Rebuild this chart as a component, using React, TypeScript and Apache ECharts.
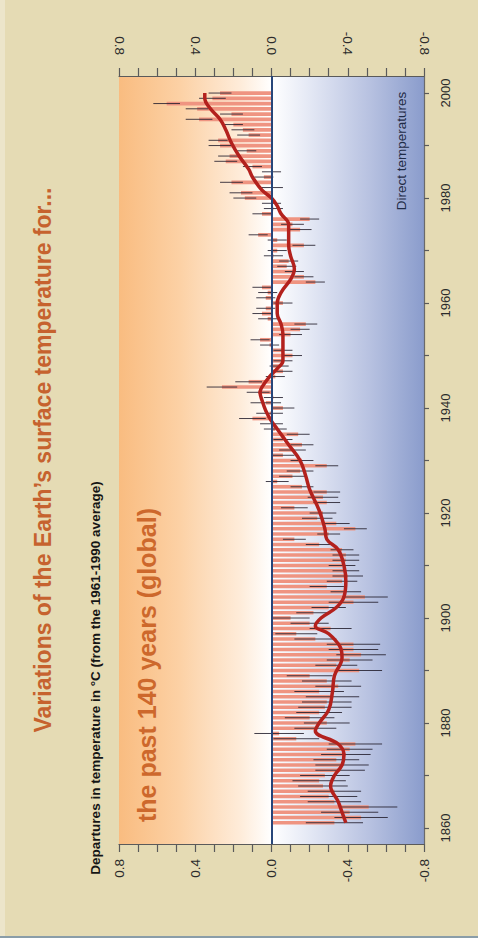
import React, { useEffect, useRef } from 'react';
import * as echarts from 'echarts';

// ---------- data ----------
const firstYear = 1861;

// annual global temperature departures (°C, from the 1961-1990 average), 1861-2000
const anomalies = [
  -0.33, -0.47, -0.41, -0.51, -0.33, -0.30, -0.33, -0.27, -0.25, -0.28,
  -0.36, -0.37, -0.34, -0.39, -0.41, -0.44, -0.13, -0.04, -0.23, -0.29,
  -0.20, -0.25, -0.28, -0.29, -0.32, -0.25, -0.35, -0.29, -0.20, -0.46,
  -0.34, -0.41, -0.47, -0.43, -0.43, -0.23, -0.13, -0.31, -0.20, -0.10,
  -0.22, -0.30, -0.43, -0.49, -0.39, -0.29, -0.37, -0.40, -0.39, -0.37,
  -0.39, -0.39, -0.37, -0.25, -0.12, -0.30, -0.44, -0.34, -0.24, -0.27,
  -0.12, -0.29, -0.27, -0.29, -0.16, -0.03, -0.11, -0.15, -0.29, -0.16,
  -0.06, -0.11, -0.16, -0.06, -0.14, -0.02, 0.00, 0.10, 0.01, -0.06,
  0.03, -0.01, 0.07, 0.26, 0.12, -0.02, -0.06, -0.04, -0.06, -0.11,
  -0.06, 0.01, 0.06, -0.10, -0.15, -0.18, 0.02, 0.05, 0.03, -0.06,
  0.03, 0.02, 0.05, -0.23, -0.17, -0.12, -0.08, -0.09, -0.01, -0.03,
  -0.17, -0.03, 0.07, -0.15, -0.11, -0.20, 0.05, -0.01, 0.00, 0.14,
  0.16, 0.00, 0.21, 0.04, 0.00, 0.10, 0.24, 0.22, 0.13, 0.27,
  0.28, 0.12, 0.15, 0.20, 0.38, 0.21, 0.39, 0.55, 0.31, 0.27,
];

// half-width of the uncertainty whiskers (°C), 1861-2000
const errHalf = [
  0.15, 0.14, 0.15, 0.15, 0.14, 0.15, 0.14, 0.13, 0.14, 0.13,
  0.13, 0.14, 0.12, 0.13, 0.12, 0.14, 0.12, 0.13, 0.11, 0.12,
  0.13, 0.12, 0.14, 0.13, 0.14, 0.13, 0.12, 0.13, 0.12, 0.12,
  0.11, 0.12, 0.13, 0.13, 0.14, 0.11, 0.11, 0.11, 0.10, 0.10,
  0.09, 0.09, 0.13, 0.12, 0.08, 0.09, 0.08, 0.08, 0.07, 0.07,
  0.07, 0.07, 0.06, 0.07, 0.06, 0.06, 0.06, 0.07, 0.08, 0.07,
  0.07, 0.07, 0.08, 0.07, 0.06, 0.06, 0.07, 0.07, 0.06, 0.06,
  0.06, 0.07, 0.06, 0.05, 0.06, 0.06, 0.06, 0.07, 0.07, 0.06,
  0.08, 0.05, 0.06, 0.08, 0.07, 0.05, 0.05, 0.05, 0.05, 0.05,
  0.05, 0.05, 0.05, 0.06, 0.05, 0.06, 0.05, 0.05, 0.05, 0.05,
  0.05, 0.05, 0.05, 0.05, 0.05, 0.05, 0.05, 0.05, 0.05, 0.05,
  0.06, 0.05, 0.05, 0.06, 0.06, 0.05, 0.05, 0.05, 0.05, 0.06,
  0.06, 0.06, 0.06, 0.05, 0.05, 0.05, 0.06, 0.06, 0.05, 0.06,
  0.05, 0.06, 0.06, 0.05, 0.07, 0.06, 0.06, 0.07, 0.07, 0.06,
];

// smoothed curve (decadal variations)
const smoothYears = [
  1861, 1863, 1865, 1868, 1870, 1872, 1874, 1876, 1878.5, 1880,
  1882.5, 1886, 1889, 1892.5, 1894.5, 1897, 1898.5, 1900, 1902, 1904,
  1907, 1910, 1913, 1915, 1917, 1920.5, 1924.5, 1927, 1930, 1933,
  1936, 1937.5, 1939.5, 1941.5, 1943, 1944, 1946, 1947.5, 1949, 1952,
  1954, 1956, 1958, 1960, 1962, 1964.5, 1966.5, 1969, 1971, 1973,
  1975, 1977, 1978.5, 1980, 1981.5, 1984, 1985.5, 1988, 1990.5, 1993,
  1995, 1997, 1999, 2000,
];
const smoothValues = [
  -0.39, -0.37, -0.35, -0.31, -0.33, -0.37, -0.38, -0.35, -0.23, -0.25,
  -0.30, -0.32, -0.33, -0.37, -0.36, -0.30, -0.23, -0.26, -0.34, -0.38,
  -0.39, -0.38, -0.35, -0.29, -0.28, -0.25, -0.20, -0.18, -0.15, -0.09,
  -0.03, 0.00, 0.03, 0.05, 0.06, 0.05, 0.01, -0.03, -0.06, -0.06,
  -0.06, -0.05, -0.03, -0.03, -0.05, -0.10, -0.12, -0.10, -0.09, -0.09,
  -0.09, -0.05, -0.03, 0.00, 0.05, 0.10, 0.12, 0.17, 0.21, 0.24,
  0.27, 0.32, 0.35, 0.35,
];

const yearTicks = [1860, 1870, 1880, 1890, 1900, 1910, 1920, 1930, 1940, 1950, 1960, 1970, 1980, 1990, 2000];
const yearLabels = [1860, 1880, 1900, 1920, 1940, 1960, 1980, 2000];

const titleText = 'Variations of the Earth\u2019s surface temperature for...';
const subtitleText = 'the past 140 years (global)';
const axisNameText = 'Departures in temperature in \u00B0C (from the 1961-1990 average)';
const noteText = 'Direct temperatures';

const FONT = '"Liberation Sans", Arial, Helvetica, sans-serif';

export default function App() {
  const ref = useRef<HTMLDivElement>(null);

  useEffect(() => {
    if (!ref.current) return;
    const chart = echarts.init(ref.current, undefined, { renderer: 'svg' });

    const years = anomalies.map((_, i) => firstYear + i);
    const barData = years.map((y, i) => [anomalies[i], y, errHalf[i]]);
    const curveData = smoothYears.map((y, i) => [smoothValues[i], y]);

    const valueAxisBase = (position: 'top' | 'bottom', margin: number) => ({
      type: 'value',
      gridIndex: 0,
      position,
      min: -0.8,
      max: 0.8,
      interval: 0.4,
      inverse: true,
      axisLine: { show: true, onZero: false, lineStyle: { color: '#5a5a5a', width: 1.2 } },
      axisTick: { show: true, length: 8, lineStyle: { color: '#5a5a5a', width: 1.2 } },
      minorTick: { show: true, splitNumber: 4, length: 8, lineStyle: { color: '#5a5a5a', width: 1.2 } },
      splitLine: { show: false },
      minorSplitLine: { show: false },
      axisLabel: {
        rotate: 90,
        margin,
        fontSize: 13.5,
        color: '#2b2b2b',
        fontFamily: FONT,
        formatter: (v: number) => (Math.abs(v) < 1e-9 ? '0.0' : v.toFixed(1)),
      },
    });

    const gradient = new echarts.graphic.LinearGradient(0, 0, 1, 0, [
      { offset: 0, color: '#f9bc80' },
      { offset: 0.2, color: '#fcd1a5' },
      { offset: 0.4, color: '#feecda' },
      { offset: 0.5, color: '#ffffff' },
      { offset: 0.62, color: '#e5e9f5' },
      { offset: 0.82, color: '#b8c2e1' },
      { offset: 1, color: '#8a9ccc' },
    ]);

    const option: any = {
      animation: false,
      backgroundColor: '#e5dbb4',
      grid: {
        left: 119,
        right: 54,
        top: 76,
        bottom: 94,
        show: true,
        backgroundColor: gradient,
        borderWidth: 0,
      },
      xAxis: [valueAxisBase('top', 21), valueAxisBase('bottom', 15)],
      yAxis: {
        type: 'value',
        position: 'right',
        min: 1856.95,
        max: 2003.25,
        axisLine: { show: true, onZero: false, lineStyle: { color: '#6a6a6a', width: 1.2 } },
        axisTick: { show: true, length: 5, customValues: yearTicks, lineStyle: { color: '#5a5a5a', width: 1.2 } },
        axisLabel: {
          customValues: yearLabels,
          rotate: 90,
          margin: 15,
          fontSize: 13,
          color: '#2b2b2b',
          fontFamily: FONT,
          formatter: (v: number) => String(v),
        },
        splitLine: { show: false },
      },
      graphic: [
        { type: 'rect', left: 0, top: 0, shape: { width: 5, height: 938 }, style: { fill: '#ece5ca' }, silent: true },
        { type: 'rect', left: 0, top: 936, shape: { width: 478, height: 2 }, style: { fill: '#8a9da8' }, silent: true },
        {
          type: 'text', x: 43, y: 460, rotation: Math.PI / 2, silent: true,
          style: {
            text: titleText, fill: '#c6622e', font: `bold 23px ${FONT}`,
            align: 'center', verticalAlign: 'middle', textAlign: 'center', textVerticalAlign: 'middle',
          },
        },
        {
          type: 'text', x: 95, y: 678, rotation: Math.PI / 2, silent: true,
          style: {
            text: axisNameText, fill: '#151515', font: `bold 13.5px ${FONT}`,
            align: 'center', verticalAlign: 'middle', textAlign: 'center', textVerticalAlign: 'middle',
          },
        },
        {
          type: 'text', x: 147, y: 665, rotation: Math.PI / 2, silent: true, z: 10,
          style: {
            text: subtitleText, fill: '#cd682c', font: `bold 25px ${FONT}`,
            align: 'center', verticalAlign: 'middle', textAlign: 'center', textVerticalAlign: 'middle',
          },
        },
        {
          type: 'text', x: 401, y: 151, rotation: Math.PI / 2, silent: true, z: 10,
          style: {
            text: noteText, fill: '#1f2b46', font: `13.5px ${FONT}`,
            align: 'center', verticalAlign: 'middle', textAlign: 'center', textVerticalAlign: 'middle',
          },
        },
      ],
      series: [
        {
          type: 'custom',
          xAxisIndex: 0,
          yAxisIndex: 0,
          data: barData,
          encode: { x: 0, y: 1 },
          z: 2,
          silent: true,
          renderItem: (_params: any, api: any) => {
            const v = api.value(0);
            const yr = api.value(1);
            const e = api.value(2);
            const p0 = api.coord([0, yr]);
            const p1 = api.coord([v, yr]);
            const pl = api.coord([v - e, yr]);
            const ph = api.coord([v + e, yr]);
            const h = api.size([0, 1])[1] * 0.7;
            return {
              type: 'group',
              children: [
                {
                  type: 'rect',
                  shape: { x: Math.min(p0[0], p1[0]), y: p0[1] - h / 2, width: Math.abs(p1[0] - p0[0]), height: h },
                  style: { fill: '#ef9481' },
                },
                {
                  type: 'line',
                  shape: { x1: pl[0], y1: pl[1], x2: ph[0], y2: ph[1] },
                  style: { stroke: 'rgba(35,30,45,0.85)', lineWidth: 1 },
                },
              ],
            };
          },
        },
        {
          type: 'line',
          xAxisIndex: 0,
          yAxisIndex: 0,
          data: curveData,
          smooth: 0.4,
          symbol: 'none',
          showSymbol: false,
          silent: true,
          z: 4,
          lineStyle: { color: '#b3211d', width: 3.5 },
          markLine: {
            silent: true,
            symbol: ['none', 'none'],
            label: { show: false },
            lineStyle: { color: '#27467a', width: 2, type: 'solid' },
            data: [{ xAxis: 0 }],
          },
        },
      ],
    };

    chart.setOption(option);
    return () => chart.dispose();
  }, []);

  return (
    <div
      ref={ref}
      style={{ position: 'fixed', left: 0, top: 0, width: 478, height: 938 }}
    />
  );
}
